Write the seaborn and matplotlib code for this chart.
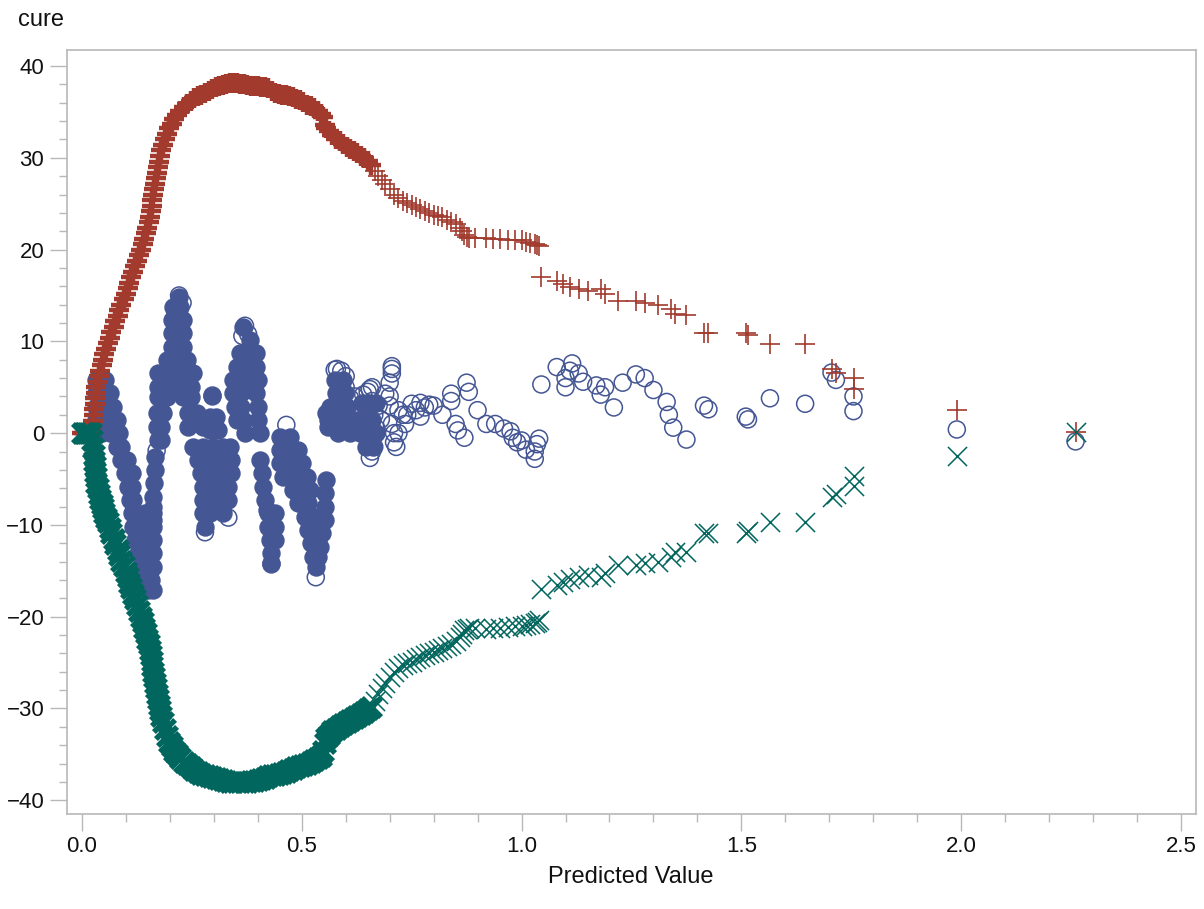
import matplotlib
matplotlib.use('Agg')
import matplotlib.pyplot as plt
import numpy as np
import seaborn as sns

# limites de confianca: valor previsto, limite superior, limite inferior
env_x = [0.000, 0.004, 0.008, 0.012, 0.016, 0.020, 0.023, 0.025, 0.027, 0.028, 0.029, 0.030, 0.031, 0.033, 0.036, 0.039,
         0.042, 0.045, 0.048, 0.051, 0.055, 0.059, 0.063, 0.067, 0.072, 0.076, 0.081, 0.085, 0.090, 0.095, 0.100, 0.104,
         0.108, 0.112, 0.116, 0.120, 0.125, 0.130, 0.134, 0.138, 0.142, 0.146, 0.149, 0.152, 0.155, 0.157, 0.159, 0.160,
         0.162, 0.164, 0.166, 0.168, 0.170, 0.172, 0.175, 0.177, 0.180, 0.184, 0.188, 0.193, 0.198, 0.204, 0.210, 0.217,
         0.224, 0.232, 0.240, 0.248, 0.256, 0.264, 0.272, 0.280, 0.288, 0.296, 0.304, 0.312, 0.320, 0.328, 0.336, 0.344,
         0.352, 0.360, 0.368, 0.376, 0.384, 0.392, 0.400, 0.408, 0.416, 0.424, 0.432, 0.440, 0.448, 0.456, 0.464, 0.472,
         0.480, 0.488, 0.496, 0.504, 0.512, 0.520, 0.528, 0.536, 0.544, 0.548, 0.552, 0.556, 0.562, 0.570, 0.578, 0.586,
         0.594, 0.602, 0.610, 0.618, 0.626, 0.634, 0.642, 0.650, 0.658, 0.666, 0.674, 0.682, 0.690, 0.700, 0.710, 0.720,
         0.730, 0.740, 0.750, 0.760, 0.770, 0.780, 0.790, 0.800, 0.810, 0.820, 0.830, 0.840, 0.850, 0.860, 0.865, 0.870,
         0.875, 0.880, 0.895, 0.920, 0.935, 0.950, 0.970, 0.985, 1.000, 1.010, 1.020, 1.030, 1.035, 1.040,
         1.045, 1.080, 1.095, 1.110, 1.130, 1.150, 1.180, 1.190, 1.220, 1.260, 1.280, 1.310, 1.340, 1.350, 1.375,
         1.415, 1.425, 1.510, 1.515, 1.565, 1.645, 1.705, 1.715, 1.755, 1.755, 1.990, 2.260]
upper = [0, 0, 0, 0, 0, 0, 0.6, 1.3, 2.0, 2.6, 3.2, 3.8, 4.4, 5.0, 5.6, 6.2,
         6.8, 7.4, 8.0, 8.6, 9.2, 9.8, 10.4, 11.0, 11.6, 12.2, 12.8, 13.4, 14.0, 14.6, 15.2, 15.8,
         16.4, 17.0, 17.6, 18.2, 18.8, 19.4, 20.0, 20.6, 21.2, 21.8, 22.4, 23.0, 23.6, 24.2, 24.8, 25.4,
         26.0, 26.6, 27.2, 27.8, 28.4, 29.0, 29.6, 30.2, 30.8, 31.4, 32.0, 32.6, 33.2, 33.7, 34.2, 34.7,
         35.1, 35.5, 35.9, 36.2, 36.5, 36.7, 36.9, 37.1, 37.3, 37.5, 37.7, 37.8, 37.9, 38.0, 38.1, 38.1,
         38.1, 38.0, 38.0, 37.9, 37.8, 37.8, 37.8, 37.7, 37.7, 37.6, 37.3, 37.1, 37.0, 36.9, 36.8, 36.7,
         36.6, 36.4, 36.3, 36.1, 35.8, 35.6, 35.4, 35.1, 34.8, 34.4, 33.6, 33.2, 32.9, 32.5, 32.1, 31.8,
         31.5, 31.2, 31.0, 30.7, 30.5, 30.2, 30.0, 29.7, 29.2, 28.6, 28.0, 27.6, 27.2, 26.6, 26.0, 25.6,
         25.3, 25.1, 24.9, 24.6, 24.4, 24.2, 24.0, 23.8, 23.7, 23.5, 23.2, 23.0, 22.8, 22.4, 22.0, 21.6,
         21.4, 21.3, 21.3, 21.3, 21.2, 21.2, 21.1, 21.0, 21.0, 20.8, 20.7, 20.6, 20.5, 20.4,
         17.0, 16.6, 16.2, 15.9, 15.7, 15.5, 15.7, 15.2, 14.4, 14.4, 14.2, 14.0, 13.5, 13.0, 12.9,
         10.9, 10.9, 10.9, 10.7, 9.7, 9.7, 7.0, 6.6, 6.0, 4.8, 2.5, 0.1]
lower = [0, 0, 0, 0, 0, 0, -0.8, -1.6, -2.4, -3.0, -3.6, -4.2, -4.8, -5.4, -6.0, -6.6,
         -7.2, -7.7, -8.2, -8.7, -9.2, -9.7, -10.3, -10.9, -11.5, -12.1, -12.7, -13.3, -13.9, -14.5, -15.1, -15.7,
         -16.3, -16.9, -17.5, -18.1, -18.7, -19.4, -20.0, -20.6, -21.2, -21.8, -22.4, -23.0, -23.6, -24.2, -24.8, -25.4,
         -26.0, -26.6, -27.2, -27.8, -28.4, -29.0, -29.6, -30.2, -30.8, -31.5, -32.2, -33.0, -33.6, -34.1, -34.6, -35.0,
         -35.4, -35.8, -36.1, -36.4, -36.7, -36.9, -37.1, -37.3, -37.4, -37.5, -37.6, -37.7, -37.8, -37.9, -38.0, -38.0,
         -38.0, -38.0, -38.0, -38.0, -37.9, -37.9, -37.8, -37.7, -37.6, -37.4, -37.3, -37.2, -37.1, -37.0, -36.9, -36.7,
         -36.6, -36.4, -36.3, -36.2, -36.0, -35.8, -35.6, -35.4, -35.2, -34.6, -33.8, -33.2, -32.9, -32.5, -32.2, -31.9,
         -31.7, -31.5, -31.3, -31.0, -30.8, -30.6, -30.4, -30.1, -29.8, -29.2, -28.4, -27.8, -27.2, -26.6, -26.0, -25.6,
         -25.3, -25.1, -24.9, -24.6, -24.4, -24.2, -24.0, -23.8, -23.6, -23.4, -23.2, -23.0, -22.7, -22.2, -21.9, -21.5,
         -21.3, -21.2, -21.2, -21.3, -21.2, -21.2, -21.1, -21.0, -21.0, -20.9, -20.8, -20.7, -20.6, -20.4,
         -17.0, -16.6, -16.2, -15.9, -15.7, -15.5, -15.7, -15.2, -14.4, -14.4, -14.2, -14.0, -13.5, -13.0, -12.9,
         -10.9, -10.9, -10.9, -10.7, -9.7, -9.7, -7.0, -6.6, -4.7, -5.8, -2.5, 0.1]

# miolo denso dos residuos (os aneis se sobrepoem e viram mancha solida)
dense_x = [0.033, 0.052,
           0.033, 0.049, 0.064,
           0.033, 0.049, 0.071,
           0.033, 0.052, 0.079,
           0.045, 0.064, 0.085,
           0.079, 0.090,
           0.090, 0.102,
           0.098, 0.113,
           0.105, 0.113,
           0.109, 0.117,
           0.113, 0.121, 0.143, 0.162,
           0.117, 0.132, 0.162,
           0.121, 0.136, 0.151, 0.162,
           0.128, 0.143, 0.162,
           0.136, 0.151, 0.162,
           0.143, 0.158,
           0.151, 0.162,
           0.166, 0.166, 0.164, 0.162, 0.162, 0.162,
           0.174, 0.181,
           0.170, 0.181,
           0.170, 0.185,
           0.174, 0.193,
           0.174, 0.193, 0.212, 0.230, 0.249,
           0.174, 0.193, 0.212, 0.230, 0.253,
           0.193, 0.212, 0.230, 0.238,
           0.204, 0.219, 0.230,
           0.204, 0.219, 0.229,
           0.204, 0.219, 0.229,
           0.208, 0.223,
           0.221,
           0.230, 0.249,
           0.242, 0.261,
           0.242, 0.276,
           0.253, 0.276, 0.299, 0.321, 0.337,
           0.265, 0.284, 0.306, 0.325, 0.340,
           0.272, 0.287, 0.306, 0.325, 0.340,
           0.276, 0.295, 0.314, 0.333,
           0.276, 0.295, 0.314, 0.333,
           0.276, 0.291, 0.321,
           0.280,
           0.297,
           0.291, 0.306,
           0.291, 0.310,
           0.367, 0.382,
           0.359, 0.378, 0.397,
           0.352, 0.374, 0.397,
           0.344, 0.363, 0.382, 0.401,
           0.344, 0.363, 0.397,
           0.348, 0.363, 0.401,
           0.352, 0.367, 0.401,
           0.371, 0.405,
           0.405, 0.409, 0.412, 0.416, 0.420,
           0.424, 0.439,
           0.424, 0.439,
           0.428, 0.439,
           0.431,
           0.431,
           0.450, 0.473,
           0.450, 0.473, 0.492,
           0.450, 0.477, 0.500,
           0.458, 0.484, 0.511,
           0.481, 0.507, 0.519,
           0.492, 0.515,
           0.507, 0.526,
           0.515, 0.534,
           0.522, 0.537,
           0.526, 0.537,
           0.532,
           0.541, 0.545, 0.553, 0.554, 0.554, 0.555,
           0.559, 0.556,
           0.575, 0.594,
           0.579, 0.598,
           0.564, 0.583, 0.602,
           0.560, 0.583, 0.606, 0.625, 0.644, 0.659,
           0.636, 0.655, 0.670,
           0.583, 0.609, 0.632, 0.655, 0.670,
           0.647, 0.663]
dense_y = [5.78, 5.78,
           4.33, 4.33, 4.33,
           2.87, 2.87, 2.87,
           1.42, 1.42, 1.42,
           -0.03, -0.03, -0.03,
           -1.49, -1.49,
           -2.94, -2.94,
           -4.39, -4.39,
           -5.84, -5.84,
           -7.30, -7.30,
           -8.75, -8.75, -8.75, -8.75,
           -10.20, -10.20, -10.20,
           -11.66, -11.66, -11.66, -11.66,
           -13.11, -13.11, -13.11,
           -14.56, -14.56, -14.56,
           -16.02, -16.02,
           -17.10, -17.10,
           -2.57, -4.03, -5.48, -6.93, -8.02, -9.48,
           -0.76, -0.76,
           0.69, 0.69,
           2.15, 2.15,
           3.96, 3.96,
           5.05, 5.05, 5.05, 5.05, 5.05,
           6.51, 6.51, 6.51, 6.51, 6.51,
           7.96, 7.96, 7.96, 7.96,
           9.41, 9.41, 9.41,
           10.87, 10.87, 10.87,
           12.32, 12.32, 12.32,
           13.77, 13.77,
           14.86,
           3.96, 3.96,
           2.15, 2.15,
           0.69, 0.69,
           -1.49, -1.49, -1.49, -1.49, -1.49,
           -2.94, -2.94, -2.94, -2.94, -2.94,
           -4.39, -4.39, -4.39, -4.39, -4.39,
           -5.84, -5.84, -5.84, -5.84,
           -7.30, -7.30, -7.30, -7.30,
           -8.75, -8.75, -8.75,
           -10.20,
           0.88 + 3.2,
           1.78, 1.78,
           0.33, 0.33,
           11.59, 10.14,
           8.69, 8.69, 8.69,
           7.23, 7.23, 7.23,
           5.78, 5.78, 5.78, 5.78,
           4.33, 4.33, 4.33,
           2.87, 2.87, 2.87,
           1.42, 1.42, 1.42,
           -0.03, -0.03,
           -2.94, -4.39, -5.84, -7.30, -8.39,
           -8.75, -8.75,
           -10.20, -10.20,
           -11.66, -11.66,
           -13.11,
           -14.20,
           -0.40, -0.40,
           -1.85, -1.85, -1.85,
           -3.30, -3.30, -3.30,
           -4.75, -4.75, -4.75,
           -6.21, -6.21, -6.21,
           -7.66, -7.66,
           -9.11, -9.11,
           -10.57, -10.57,
           -12.02, -12.02,
           -13.47, -13.47,
           -14.56,
           -12.38, -10.93, -9.48, -8.02, -6.57, -5.12,
           0.69, 2.15,
           5.78, 5.78,
           4.33, 4.33,
           2.87, 2.87, 2.87,
           1.42, 1.42, 1.42, 1.42, 1.42, 1.42,
           3.24, 3.24, 3.24,
           -0.03, -0.03, -0.03, -0.03, -0.03,
           -1.49, -1.49]

# residuos visiveis como aneis separados
ring_x = [0.221, 0.229, 0.213, 0.297, 0.371, 0.378, 0.465, 0.575, 0.532, 0.431, 0.333, 0.280, 0.170, 0.365,
          0.580, 0.590, 0.600, 0.600, 0.610, 0.620, 0.630, 0.640, 0.640, 0.650, 0.655, 0.660, 0.660, 0.665, 0.660,
          0.655, 0.660, 0.655, 0.665, 0.670, 0.675, 0.680, 0.690, 0.700, 0.705, 0.705, 0.705, 0.700, 0.700, 0.705,
          0.710, 0.710, 0.715, 0.720, 0.720, 0.730, 0.735, 0.740, 0.750, 0.760, 0.770, 0.770, 0.780, 0.790,
          0.800, 0.820, 0.840, 0.840, 0.850, 0.855, 0.870, 0.875, 0.880, 0.900, 0.920, 0.940, 0.960, 0.975, 0.980,
          0.990, 1.000, 1.010, 1.030, 1.030, 1.035, 1.040, 1.045, 1.080, 1.100, 1.100, 1.110, 1.115, 1.130, 1.140,
          1.170, 1.180, 1.190, 1.210, 1.230, 1.260, 1.280, 1.300, 1.330, 1.335, 1.345, 1.375, 1.415, 1.425, 1.510,
          1.515, 1.565, 1.645, 1.705, 1.715, 1.755, 1.755, 1.990, 2.260]
ring_y = [15.0, 14.2, 13.0, 4.1, 11.7, 10.8, 0.9, 6.9, -15.7, -14.3, -9.2, -10.8, -1.9, 10.6,
          7.0, 6.8, 6.2, 5.0, 3.8, 4.0, 2.5, 1.5, 4.2, 4.5, 4.8, 5.0, 3.5, 2.0, 0.5,
          -1.0, -2.0, -2.7, -1.5, 0.5, 3.0, 1.5, 4.3, 5.5, 7.0, 6.5, 7.3, 4.0, 3.0, 1.0,
          0.0, -1.0, -1.5, 0.0, 2.5, 2.0, 1.0, 2.0, 3.2, 2.5, 1.8, 3.3, 2.8, 3.1,
          3.0, 2.0, 3.5, 4.3, 1.0, 0.3, -0.5, 5.5, 4.5, 2.5, 1.0, 1.0, 0.5, 0.2, -0.5,
          -1.0, -0.8, -1.8, -2.0, -2.8, -1.2, -0.6, 5.3, 7.2, 6.0, 5.0, 6.8, 7.6, 6.5, 5.6,
          5.2, 4.2, 5.0, 2.8, 5.5, 6.4, 6.0, 4.7, 3.4, 2.0, 0.6, -0.7, 3.0, 2.6, 1.8,
          1.5, 3.8, 3.2, 6.6, 5.8, 4.0, 2.4, 0.4, -0.9]

y_ticks = [-40, -30, -20, -10, 0, 10, 20, 30, 40]
x_ticks = [0.0, 0.5, 1.0, 1.5, 2.0, 2.5]

azul = '#445694'
vermelho = '#A23A2E'
verde = '#01665E'
cinza = '#B8B8B8'

sns.set_theme(style='white')
plt.rcParams['font.family'] = ['Liberation Sans', 'DejaVu Sans']

fig = plt.figure(figsize=(12.04, 9.09), dpi=100)
ax = fig.add_axes([66.5 / 1204, 1 - 814 / 909, (1196 - 66.5) / 1204, (814 - 50) / 909])

env_x = np.array(env_x)
upper = np.array(upper)
lower = np.array(lower)
denso = env_x < 0.66

sns.scatterplot(x=dense_x, y=dense_y, marker='o', s=150, color=azul, edgecolor=azul, linewidth=1, ax=ax)
sns.scatterplot(x=ring_x, y=ring_y, marker='o', s=150, facecolor='none', edgecolor=azul, linewidth=1.1, ax=ax)

sns.scatterplot(x=env_x[denso], y=upper[denso], marker='+', s=210, color=vermelho, linewidth=3.2, ax=ax)
sns.scatterplot(x=env_x[~denso], y=upper[~denso], marker='+', s=210, color=vermelho, linewidth=1.2, ax=ax)
sns.scatterplot(x=env_x[denso], y=lower[denso], marker='x', s=190, color=verde, linewidth=4, ax=ax)
sns.scatterplot(x=env_x[~denso], y=lower[~denso], marker='x', s=190, color=verde, linewidth=1.1, ax=ax)

ax.set_xlim(-0.035, 2.534)
ax.set_ylim(-41.5, 41.75)
ax.set_xticks(x_ticks)
ax.set_yticks(y_ticks)
ax.set_xticks(np.arange(0, 2.55, 0.1), minor=True)
ax.set_yticks(np.arange(-40, 41, 2), minor=True)
ax.tick_params(axis='both', which='major', length=12, width=1, color=cinza, labelsize=16, labelcolor='#111111', left=True, bottom=True, pad=4)
ax.tick_params(axis='both', which='minor', length=6, width=1, color=cinza, left=True, bottom=True)
for lado in ax.spines.values():
    lado.set_color(cinza)
    lado.set_linewidth(1.2)

ax.set_xlabel('Predicted Value', fontsize=17, color='#111111', labelpad=6)
ax.set_ylabel('')
fig.text(18 / 1204, 1 - 20 / 909, 'cure', fontsize=17, color='#111111', ha='left', va='center')

fig.savefig('out.png', dpi=100)
